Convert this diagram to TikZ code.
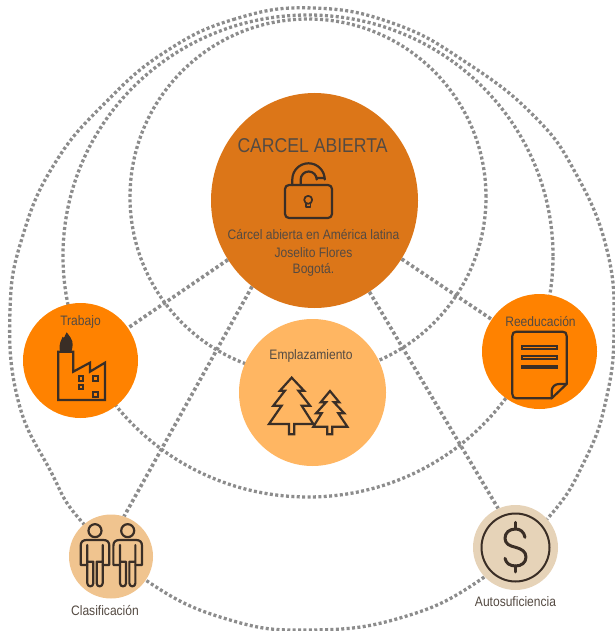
\documentclass[tikz,border=0pt]{standalone}
\usepackage{fontspec}
\setmainfont[FakeStretch=0.88]{Liberation Sans}
\usetikzlibrary{shapes.geometric}
\definecolor{ringgray}{HTML}{8C8C8C}
\definecolor{inkdark}{HTML}{3A2E26}
\definecolor{txtdark}{HTML}{544A42}
\definecolor{mainorange}{HTML}{DC7618}
\definecolor{brightorange}{HTML}{FF8200}
\definecolor{softorange}{HTML}{FFB662}
\definecolor{peach}{HTML}{F0C48F}
\definecolor{sand}{HTML}{E6D3B8}
\tikzset{
  ringline/.style={draw=ringgray,line width=3.3pt,dash pattern=on 3pt off 2.4pt},
  spokeline/.style={draw=ringgray,line width=3.6pt,dash pattern=on 3.2pt off 2.6pt},
  disc/.style={circle,inner sep=0pt,draw=none},
  icon/.style={draw=inkdark,line width=2.2pt,line join=round,line cap=round},
  lab/.style={inner sep=0pt,text=txtdark,font=\fontsize{13.7pt}{15pt}\selectfont},
}
\begin{document}
\begin{tikzpicture}[x=1pt,y=-1pt]
\useasboundingbox (0,0) rectangle (614,631);
\begin{scope}[opacity=0]
\node[ellipse,inner sep=0pt,minimum width=207pt,minimum height=215pt] (main) at (314.5,200.5) {};
\node[disc,minimum size=115pt] (trabajo) at (80.5,360.5) {};
\node[disc,minimum size=115pt] (reedu) at (539.5,351.5) {};
\node[disc,minimum size=84pt] (clasif) at (111,556.5) {};
\node[disc,minimum size=85pt] (autos) at (515.5,547.5) {};
\end{scope}
% rings
\draw[ringline] (308,197) circle[radius=178pt];
\draw[ringline] (308,256) ellipse[x radius=245pt,y radius=241pt];
\draw[ringline] plot[smooth cycle,tension=0.75] coordinates {
 (313,8) (235,19) (165,52) (105,103) (55,163) (23,235) (10,310)
 (18,400) (50,470) (82,522) (150,583) (230,620) (310,630) (400,618) (480,580)
 (548,518) (585,460) (606,400) (614,330) (607,250) (575,172) (533,115)
 (467,63) (395,24)};
% spokes
\draw[spokeline] (main) -- (trabajo);
\draw[spokeline] (main) -- (reedu);
\draw[spokeline] (main.234) -- (clasif.72);
\draw[spokeline] (main.-59.5) -- (autos.114.6);
% discs
\node[ellipse,inner sep=0pt,minimum width=207pt,minimum height=215pt,fill=mainorange] at (main.center) {};
\node[disc,minimum size=115pt,fill=brightorange] at (trabajo.center) {};
\node[disc,minimum size=115pt,fill=brightorange] at (reedu.center) {};
\node[disc,minimum size=147pt,fill=softorange] (empl) at (312.5,392.5) {};
\node[disc,minimum size=84pt,fill=peach] at (clasif.center) {};
\node[disc,minimum size=85pt,fill=sand] at (autos.center) {};
% texts
\node[inner sep=0pt,text=txtdark,font=\fontsize{20pt}{24pt}\selectfont] (title) at (312.5,146) {CARCEL ABIERTA};
\node[lab] (t1) at (313.5,234.5) {Cárcel abierta en América latina};
\node[lab] (t2) at (313.5,252.5) {Joselito Flores};
\node[lab] (t3) at (313.5,269.5) {Bogotá.};
\node[lab] (lt) at (80.5,322) {Trabajo};
\node[lab] (lr) at (540.5,322) {Reeducación};
\node[lab] (le) at (311,355.5) {Emplazamiento};
\node[lab] (lc) at (105,611) {Clasificación};
\node[lab] (la) at (515.5,601.5) {Autosuficiencia};
% lock
\draw[icon,rounded corners=4pt] (285,185) rectangle (332,218);
\draw[icon] (292.3,185) -- (292.3,179.5) arc[start angle=180,end angle=0,radius=16.2pt] -- (324.7,178) -- (316.7,178) -- (316.7,179.5)
  arc[start angle=0,end angle=180,radius=8pt] -- (300.7,185);
\draw[icon,line width=1.7pt] (306,203.5) -- (306,207) -- (310.5,207) -- (310.5,203.5);
\draw[icon,line width=1.7pt] (308.2,199.8) circle[radius=4pt];
% factory
\begin{scope}[shift={(10,290)},x=0.3333pt,y=-0.3333pt]
\draw[icon,line cap=butt,line join=miter] (145,330) -- (145,185) -- (190,185) -- (190,245) -- (240,218) -- (240,245) -- (285,218) -- (285,330) -- cycle;
\foreach \wx/\wy in {213/265,257/265,213/291,257/313}
  \draw[icon,line join=miter,line width=1.9pt] (\wx-7,\wy-7) rectangle (\wx+7,\wy+7);
\fill[inkdark] (150,184) .. controls (145,160) and (155,150) .. (158,140) .. controls (162,150) and (165,135) .. (170,127)
  .. controls (176,135) and (190,150) .. (188,165) .. controls (187,175) and (186,180) .. (184,184) -- cycle;
\end{scope}
% document
\begin{scope}[shift={(470,285)},x=0.3333pt,y=-0.3333pt]
\draw[icon] (245,340) -- (140,340) .. controls (131,340) and (127,336) .. (127,327) -- (127,153) .. controls (127,144) and (131,140) .. (140,140)
  -- (277,140) .. controls (286,140) and (290,144) .. (290,153) -- (290,297) -- (245,340);
\draw[icon] (245,340) -- (245,318) .. controls (246,305) and (255,297) .. (268,297) -- (290,297);
\foreach \ly in {188,217,246}
  \draw[icon,line width=1.7pt,line join=miter] (157,\ly-4) rectangle (260,\ly+4);
\end{scope}
% trees
\begin{scope}[shift={(230,310)},x=0.3333pt,y=-0.3333pt]
\draw[icon,line cap=butt,line join=miter] (185,203) -- (222,242) -- (205,242) -- (240,287) -- (215,287) -- (250,342) -- (193,342) -- (193,373) -- (177,373) -- (177,342) -- (117,342) -- (155,287) -- (130,287) -- (165,242) -- (150,242) -- cycle;
\draw[icon,line cap=butt,line join=miter] (300,243) -- (328,277) -- (312,277) -- (343,310) -- (325,310) -- (352,350) -- (307,350) -- (307,373) -- (292,373) -- (292,350) -- (250,350) -- (275,310) -- (258,310) -- (288,277) -- (272,277) -- cycle;
\end{scope}
% people
\foreach \px in {0,32.7}{
\begin{scope}[shift={(50+\px,500)},x=0.3333pt,y=-0.3333pt]
\draw[icon] (135,92) circle[radius=6.5pt];
\draw[icon] (112,195) -- (92,195) -- (92,138) .. controls (92,126) and (98,120) .. (110,120) -- (160,120) .. controls (172,120) and (178,126) .. (178,138) -- (178,195) -- (158,195);
\draw[icon] (112,135) -- (112,250) .. controls (112,262) and (130,262) .. (130,250) -- (130,185) -- (112,185);
\draw[icon] (158,135) -- (158,250) .. controls (158,262) and (140,262) .. (140,250) -- (140,185) -- (158,185);
\end{scope}}
% dollar
\draw[icon,line width=2pt] (autos.center) circle[radius=34pt];
\begin{scope}[shift={(450,490)},x=0.3333pt,y=-0.3333pt]
\draw[icon,line width=3pt] (197,97) -- (197,116);
\draw[icon,line width=3pt] (197,228) -- (197,246);
\draw[icon,line width=3pt] (225,142) .. controls (222,125) and (210,117) .. (197,117) .. controls (178,117) and (165,128) .. (165,145)
  .. controls (165,162) and (180,168) .. (197,172) .. controls (215,177) and (228,185) .. (228,201) .. controls (228,218) and (214,228) .. (197,228)
  .. controls (180,228) and (168,220) .. (165,205);
\end{scope}
\end{tikzpicture}
\end{document}
